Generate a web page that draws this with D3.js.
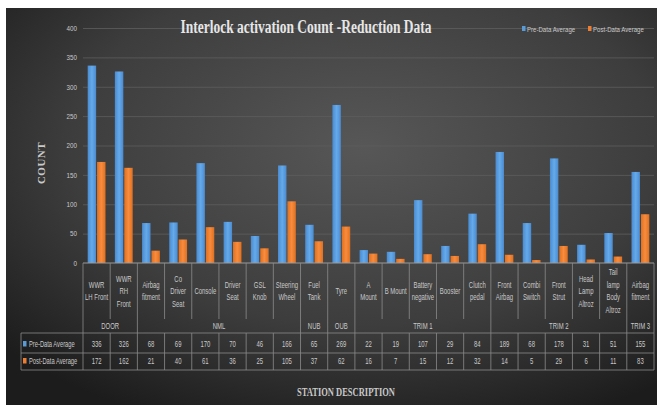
<!DOCTYPE html>
<html>
<head>
<meta charset="utf-8">
<script src="https://cdn.jsdelivr.net/npm/d3@7"></script>
<style>
  html, body { margin: 0; padding: 0; background: #fff; }
  svg { display: block; }
</style>
</head>
<body>
<div id="chart"></div>
<script>
// data
const categories = ["WWR\nLH Front", "WWR\nRH\nFront", "Airbag\nfitment", "Co\nDriver\nSeat", "Console",
    "Driver\nSeat", "GSL\nKnob", "Steering\nWheel", "Fuel\nTank", "Tyre", "A\nMount", "B Mount",
    "Battery\nnegative", "Booster", "Clutch\npedal", "Front\nAirbag", "Combi\nSwitch", "Front\nStrut",
    "Head\nLamp\nAltroz", "Tail\nlamp\nBody\nAltroz", "Airbag\nfitment"]
const groups = ["DOOR", "NML", "NUB", "OUB", "TRIM 1", "TRIM 2", "TRIM 3"]
const groupSizes = [2, 6, 1, 1, 5, 5, 1]
const seriesNames = ["Pre-Data Average", "Post-Data Average"]
const preData = [336, 326, 68, 69, 170, 70, 46, 166, 65, 269, 22, 19, 107, 29, 84, 189, 68, 178, 31, 51, 155]
const postData = [172, 162, 21, 40, 61, 36, 25, 105, 37, 62, 16, 7, 15, 12, 32, 14, 5, 29, 6, 11, 83]
const yTicks = [0, 50, 100, 150, 200, 250, 300, 350, 400]

const W = 657, H = 405
const margin = { top: 28, left: 83, right: 3, bottom: 142 }
const textCol = "#c9c9c9"
const lineCol = "#8c8c8c"
const sans = "Liberation Sans, Arial, sans-serif"
const serif = "Liberation Serif, Times New Roman, serif"

// the source font is a narrow one: squash text sideways around its anchor
const squeeze = (sel, k) => {
    sel.each(function () {
        const t = d3.select(this)
        const tx = +t.attr("x") || 0, ty = +t.attr("y") || 0
        t.attr("x", 0).attr("y", 0).attr("transform", `translate(${tx},${ty}) scale(${k},1)`)
    })
}

const svg = d3.select("#chart").append("svg").attr("width", W).attr("height", H)
const defs = svg.append("defs")

const bg = defs.append("radialGradient").attr("id", "bg")
    .attr("cx", "55%").attr("cy", "35%").attr("r", "75%")
bg.append("stop").attr("offset", "0%").attr("stop-color", "#575757")
bg.append("stop").attr("offset", "60%").attr("stop-color", "#3d3d3d")
bg.append("stop").attr("offset", "100%").attr("stop-color", "#1c1c1c")

const barGrad = (id, c1, c2) => {
    const g = defs.append("linearGradient").attr("id", id).attr("x1", 0).attr("x2", 1).attr("y1", 0).attr("y2", 0)
    g.append("stop").attr("offset", "0%").attr("stop-color", c1)
    g.append("stop").attr("offset", "50%").attr("stop-color", c2)
    g.append("stop").attr("offset", "100%").attr("stop-color", c1)
}
barGrad("gPre", "#4a8bd0", "#66aaeb")
barGrad("gPost", "#e0701f", "#f88c3f")
const fills = ["url(#gPre)", "url(#gPost)"]
const keyCols = ["#5b9bd5", "#ed7d31"]

svg.append("rect").attr("x", 6).attr("y", 8).attr("width", W - 6).attr("height", H - 8).attr("fill", "url(#bg)")

const x = d3.scaleBand()
    .domain(d3.range(categories.length))
    .range([margin.left, W - margin.right])
    .paddingInner(0).paddingOuter(0)

const xSub = d3.scaleBand()
    .domain([0, 1])
    .range([0, x.bandwidth()])
    .paddingInner(0.1).paddingOuter(0.5)

const y = d3.scaleLinear()
    .domain([0, 400])
    .range([H - margin.bottom, margin.top])

const y0 = y(0)
const xL = margin.left, xR = W - margin.right

// grid + y labels
const yAxis = svg.append("g").attr("transform", `translate(${xL},0)`)
    .call(d3.axisLeft(y).tickValues(yTicks).tickSize(-(xR - xL)).tickPadding(6))
yAxis.select(".domain").remove()
yAxis.selectAll(".tick line").attr("stroke", "#5e5e5e").attr("stroke-width", 0.8)
    .filter(d => d === 0).remove()
yAxis.selectAll(".tick text").attr("fill", textCol).attr("font-family", sans).attr("font-size", 7)
    .attr("x", -6).attr("y", 0)
squeeze(yAxis.selectAll(".tick text"), 0.9)

// bars
const series = [preData, postData]
const bars = svg.append("g")
series.forEach((vals, s) => {
    bars.append("g").selectAll("rect").data(vals).enter().append("rect")
        .attr("x", (d, i) => x(i) + xSub(s))
        .attr("y", d => y(d))
        .attr("width", xSub.bandwidth())
        .attr("height", d => y0 - y(d))
        .attr("fill", fills[s])
})

// title, legend, axis titles
const title = svg.append("text").attr("x", 306).attr("y", 33).attr("text-anchor", "middle")
    .attr("font-family", serif).attr("font-weight", "bold").attr("font-size", 19)
    .attr("fill", "#e6e6e6").text("Interlock activation Count -Reduction Data")
squeeze(title, 0.71)

const legX = [522, 588]
seriesNames.forEach((name, s) => {
    svg.append("rect").attr("x", legX[s]).attr("y", 26).attr("width", 3.5).attr("height", 5).attr("fill", keyCols[s])
    const t = svg.append("text").attr("x", legX[s] + 5).attr("y", 31.5)
        .attr("font-family", sans).attr("font-size", 8).attr("fill", textCol).text(name)
    squeeze(t, 0.76)
})

const yTitle = svg.append("text").attr("transform", "translate(45,163) rotate(-90)")
    .attr("text-anchor", "middle").attr("font-family", serif).attr("font-weight", "bold")
    .attr("font-size", 11).attr("letter-spacing", 0.5).attr("fill", textCol).text("COUNT")

const xTitle = svg.append("text").attr("x", 346).attr("y", 396).attr("text-anchor", "middle")
    .attr("font-family", serif).attr("font-weight", "bold").attr("font-size", 12.5)
    .attr("fill", textCol).text("STATION DESCRIPTION")
squeeze(xTitle, 0.68)

// data table under the axis
const tbl = svg.append("g")
const rowTop = 333, rowMid = 353, rowBot = 370, catBot = 319, tblLeft = 21
const groupStarts = []
groupSizes.reduce((acc, n) => { groupStarts.push(acc); return acc + n }, 0)
const bounds = d3.range(categories.length + 1)
const edge = i => i < categories.length ? x(i) : xR
const isGroupEdge = i => i === categories.length || groupStarts.includes(i)

tbl.append("line").attr("x1", xL).attr("x2", xR).attr("y1", y0).attr("y2", y0)
    .attr("stroke", "#9a9a9a").attr("stroke-width", 1)
tbl.selectAll(".vb").data(bounds).enter().append("line")
    .attr("x1", i => edge(i)).attr("x2", i => edge(i))
    .attr("y1", y0)
    .attr("y2", i => isGroupEdge(i) ? rowBot : catBot)
    .attr("stroke", lineCol).attr("stroke-width", 0.8)
tbl.selectAll(".vd").data(bounds.filter(i => !isGroupEdge(i))).enter().append("line")
    .attr("x1", i => edge(i)).attr("x2", i => edge(i))
    .attr("y1", rowTop).attr("y2", rowBot)
    .attr("stroke", lineCol).attr("stroke-width", 0.8)
;[rowTop, rowMid, rowBot].forEach(yy => {
    tbl.append("line").attr("x1", tblLeft).attr("x2", xR).attr("y1", yy).attr("y2", yy)
        .attr("stroke", lineCol).attr("stroke-width", 0.8)
})
tbl.append("line").attr("x1", tblLeft).attr("x2", tblLeft).attr("y1", rowTop).attr("y2", rowBot)
    .attr("stroke", lineCol).attr("stroke-width", 0.8)

// category labels
const lh = 12.5
categories.forEach((c, i) => {
    const lines = c.split("\n")
    const cx = x(i) + x.bandwidth() / 2
    const start = 291 - (lines.length - 1) * lh / 2
    lines.forEach((ln, k) => {
        const t = tbl.append("text").attr("x", cx).attr("y", start + k * lh + 3)
            .attr("text-anchor", "middle").attr("font-family", sans).attr("font-size", 8.5)
            .attr("fill", textCol).text(ln)
        squeeze(t, 0.7)
    })
})

// group labels
groups.forEach((g, gi) => {
    const a = groupStarts[gi], b = a + groupSizes[gi]
    const t = tbl.append("text").attr("x", (edge(a) + edge(b)) / 2).attr("y", 329)
        .attr("text-anchor", "middle").attr("font-family", sans).attr("font-size", 8.5)
        .attr("fill", textCol).text(g)
    squeeze(t, 0.7)
})

// value rows
const rowY = [347, 364]
series.forEach((vals, s) => {
    tbl.append("rect").attr("x", 23).attr("y", rowY[s] - 6).attr("width", 3.5).attr("height", 5.5).attr("fill", keyCols[s])
    const lab = tbl.append("text").attr("x", 29).attr("y", rowY[s])
        .attr("font-family", sans).attr("font-size", 8.5).attr("fill", textCol).text(seriesNames[s])
    squeeze(lab, 0.68)
    vals.forEach((v, i) => {
        const t = tbl.append("text").attr("x", x(i) + x.bandwidth() / 2).attr("y", rowY[s])
            .attr("text-anchor", "middle").attr("font-family", sans).attr("font-size", 8.5)
            .attr("fill", textCol).text(v)
        squeeze(t, 0.7)
    })
})
</script>
</body>
</html>
